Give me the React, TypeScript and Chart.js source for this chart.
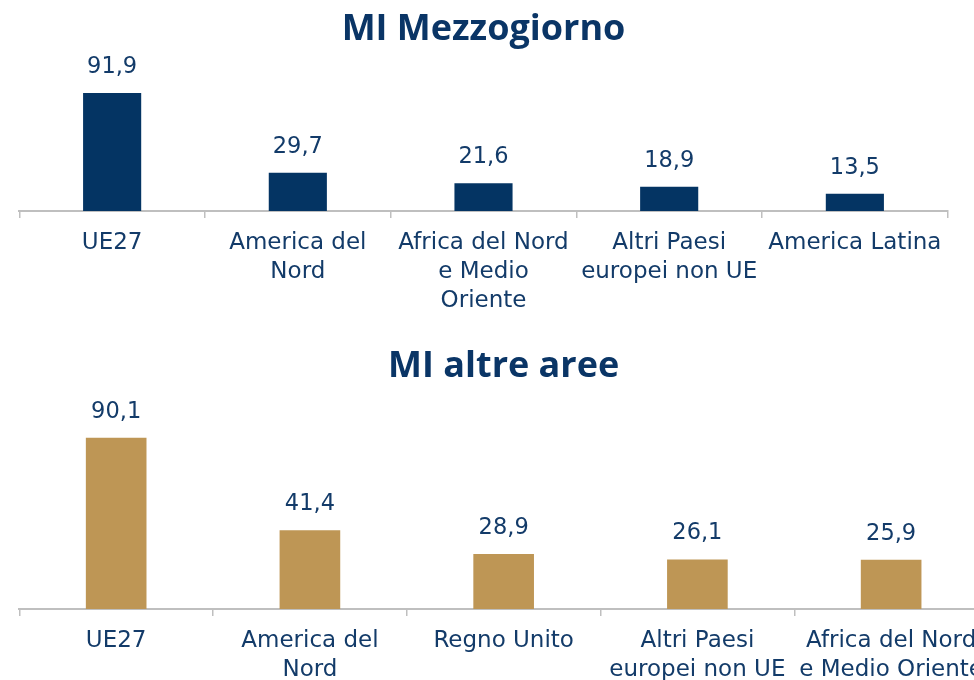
import { useEffect, useRef } from "react";
import { Chart, registerables } from "chart.js";

Chart.register(...registerables);

// ---------- data ----------
const topTitle = "MI Mezzogiorno";
const topCategories: string[][] = [
  ["UE27"],
  ["America del", "Nord"],
  ["Africa del Nord", "e Medio", "Oriente"],
  ["Altri Paesi", "europei non UE"],
  ["America Latina"],
];
const topValues = [91.9, 29.7, 21.6, 18.9, 13.5];

const bottomTitle = "MI altre aree";
const bottomCategories: string[][] = [
  ["UE27"],
  ["America del", "Nord"],
  ["Regno Unito"],
  ["Altri Paesi", "europei non UE"],
  ["Africa del Nord", "e Medio Oriente"],
];
const bottomValues = [90.1, 41.4, 28.9, 26.1, 25.9];

const yMax = 100;

// ---------- styles ----------
const NAVY = "#043463";
const GOLD = "#BE9655";
const TEXT = "#133b69";
const TITLE = "#0a3566";
const AXIS = "#bfbfbf";
const FONT = "'DejaVu Sans', sans-serif";
const TITLE_FONT = "'Open Sans', sans-serif";

const fmt = (v: number) => v.toFixed(1).replace(".", ",");

const valueLabels = {
  id: "valueLabels",
  afterDatasetsDraw(chart: any) {
    const ctx = chart.ctx;
    const meta = chart.getDatasetMeta(0);
    const data = chart.data.datasets[0].data as number[];
    ctx.save();
    ctx.fillStyle = TEXT;
    ctx.font = `22.5px ${FONT}`;
    ctx.textAlign = "center";
    ctx.textBaseline = "middle";
    meta.data.forEach((bar: any, i: number) => {
      ctx.fillText(fmt(data[i]), bar.x, bar.y - 26);
    });
    ctx.restore();
  },
};

type PanelProps = {
  title: string;
  labels: string[][];
  values: number[];
  color: string;
  width: number;
  height: number;
  top: number;
  padLeft: number;
  padRight: number;
  titlePadTop: number;
  titlePadBottom: number;
};

function BarPanel(p: PanelProps) {
  const ref = useRef<HTMLCanvasElement | null>(null);
  useEffect(() => {
    if (!ref.current) return;
    const chart = new Chart(ref.current, {
      type: "bar",
      data: {
        labels: p.labels,
        datasets: [
          {
            data: p.values,
            backgroundColor: p.color,
            borderWidth: 0,
            barPercentage: 0.313,
            categoryPercentage: 1,
          },
        ],
      },
      options: {
        responsive: false,
        animation: false,
        layout: { padding: { left: p.padLeft, right: p.padRight, top: 0, bottom: 0 } },
        plugins: {
          legend: { display: false },
          tooltip: { enabled: false },
          title: {
            display: true,
            text: p.title,
            color: TITLE,
            font: { family: TITLE_FONT, size: 36, weight: "bold", lineHeight: 1.2 },
            padding: { top: p.titlePadTop, bottom: p.titlePadBottom },
          },
        },
        scales: {
          y: { display: false, min: 0, max: yMax },
          x: {
            offset: true,
            grid: {
              offset: true,
              drawOnChartArea: false,
              drawTicks: true,
              tickLength: 7,
              color: AXIS,
              lineWidth: 1.5,
            },
            border: { display: true, color: AXIS, width: 2 },
            ticks: {
              color: TEXT,
              font: { family: FONT, size: 23, lineHeight: 29 / 23 },
              padding: 11,
              autoSkip: false,
              maxRotation: 0,
              minRotation: 0,
            },
          },
        },
      },
      plugins: [valueLabels],
    });
    return () => chart.destroy();
  }, []);
  return (
    <div style={{ position: "absolute", left: 0, top: p.top, width: p.width, height: p.height }}>
      <canvas ref={ref} width={p.width} height={p.height} style={{ display: "block" }} />
    </div>
  );
}

export default function App() {
  return (
    <div style={{ position: "fixed", inset: 0, overflow: "hidden", background: "#fff" }}>
      <BarPanel
        title={topTitle}
        labels={topCategories}
        values={topValues}
        color={NAVY}
        width={974}
        height={327}
        top={0}
        padLeft={19.3}
        padRight={26.3}
        titlePadTop={8}
        titlePadBottom={31.4}
      />
      <BarPanel
        title={bottomTitle}
        labels={bottomCategories}
        values={bottomValues}
        color={GOLD}
        width={1000}
        height={366}
        top={330}
        padLeft={19.3}
        padRight={12}
        titlePadTop={14.7}
        titlePadBottom={31.0}
      />
    </div>
  );
}
